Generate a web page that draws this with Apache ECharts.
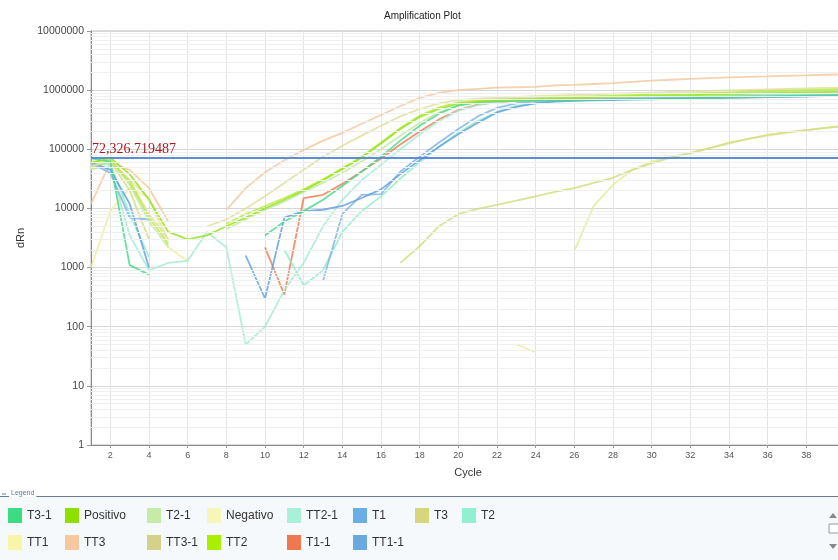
<!DOCTYPE html>
<html><head><meta charset="utf-8">
<script src="https://cdn.jsdelivr.net/npm/echarts@6/dist/echarts.min.js"></script>
<style>html,body{margin:0;padding:0;background:#fff}#c{width:838px;height:560px}</style>
</head><body><div id="c"></div>
<script>
// ---------- DATA ----------
const cycles = [1,2,3,4,5,6,7,8,9,10,11,12,13,14,15,16,17,18,19,20,21,22,23,24,25,26,27,28,29,30,31,32,33,34,35,36,37,38,39,40];
const xTickValues = [2,4,6,8,10,12,14,16,18,20,22,24,26,28,30,32,34,36,38,40];
const thresholdValue = 72326.719487;
const thresholdText = '72,326.719487';

const t3_1 = [70000,62000,1100,760,null,null,null,null,null,3500,6000,9000,14000,24000,42000,75000,140000,250000,400000,550000,620000,650000,660000,670000,675000,680000,690000,700000,705000,710000,720000,730000,740000,750000,760000,770000,780000,790000,800000,810000];
const positivo = [58000,72000,38000,14000,4000,3000,3500,5000,7000,10000,14000,20000,30000,46000,72000,125000,220000,350000,480000,590000,640000,670000,690000,700000,715000,730000,745000,760000,775000,790000,805000,820000,835000,850000,865000,880000,895000,910000,925000,940000];
const t2_1 = [52000,66000,25000,6000,2200,null,null,4500,6500,9500,13000,19000,27000,40000,62000,100000,170000,280000,420000,560000,640000,690000,720000,740000,760000,775000,790000,805000,820000,835000,850000,865000,880000,895000,910000,925000,940000,955000,970000,985000];
const negativo = [1000,9000,22000,15000,2200,1300,null,null,null,null,null,null,null,null,null,null,null,null,null,null,null,null,50,37,null,null,null,null,null,null,null,null,null,null,null,null,null,null,null,null];
const tt2_1 = [48000,50000,3500,900,1200,1300,4000,2200,50,100,420,1200,5000,14000,30000,55000,100000,180000,300000,450000,560000,630000,660000,680000,690000,700000,710000,720000,730000,740000,750000,760000,770000,780000,790000,800000,810000,820000,830000,840000];
const t1 = [60000,45000,12000,1000,null,null,null,null,1600,300,7000,9000,9500,11000,15000,21000,38000,65000,110000,180000,280000,420000,520000,600000,640000,660000,670000,680000,690000,700000,710000,720000,730000,740000,750000,760000,770000,780000,790000,800000];
const t3 = [50000,62000,20000,3000,null,null,null,null,null,null,null,null,null,null,null,null,1200,2300,5000,8000,9800,11500,13500,16000,19000,22000,27000,33000,45000,58000,72000,85000,105000,130000,150000,175000,195000,210000,230000,250000];
const t2 = [55000,58000,8000,1500,null,null,null,null,null,null,2000,500,900,4000,9000,16000,32000,60000,110000,190000,300000,430000,540000,610000,650000,670000,685000,700000,715000,730000,745000,760000,775000,790000,805000,820000,835000,850000,865000,880000];
const tt1 = [45000,60000,30000,15000,2900,null,null,null,null,null,null,null,null,null,null,null,null,null,null,null,null,null,null,null,null,1900,11000,25000,45000,62000,75000,88000,105000,125000,150000,170000,190000,210000,230000,245000];
const tt3 = [12000,60000,45000,22000,6000,null,null,9400,22000,41000,65000,97000,140000,190000,270000,380000,540000,740000,900000,1000000,1050000,1100000,1120000,1140000,1200000,1230000,1270000,1310000,1380000,1450000,1500000,1550000,1600000,1640000,1680000,1710000,1750000,1780000,1820000,1850000];
const tt3_1 = [50000,65000,30000,8000,3000,null,5000,6500,10000,16000,27000,45000,75000,115000,170000,250000,360000,480000,600000,680000,720000,750000,770000,790000,810000,830000,850000,870000,890000,910000,930000,950000,970000,990000,1010000,1030000,1050000,1070000,1090000,1100000];
const tt2 = [62000,66000,28000,7000,2500,null,null,5500,8000,11000,15000,21000,31000,48000,75000,130000,230000,370000,510000,620000,670000,700000,715000,725000,740000,760000,780000,800000,820000,840000,860000,880000,900000,920000,940000,960000,980000,1000000,1020000,1040000];
const t1_1 = [null,null,null,null,null,null,null,null,null,2200,350,15000,17000,26000,42000,70000,120000,200000,320000,460000,570000,630000,660000,680000,690000,700000,710000,720000,730000,740000,750000,760000,770000,780000,790000,800000,810000,820000,830000,840000];
const tt1_1 = [58000,40000,7000,6500,null,null,null,null,null,null,null,null,600,8000,17000,17500,42000,75000,130000,220000,360000,500000,600000,650000,670000,685000,700000,710000,720000,730000,740000,750000,760000,770000,780000,790000,800000,810000,820000,830000];

// ---------- STYLE ----------
const seriesDefs = [
  ['Negativo', negativo, '#eeee9c'],
  ['T1-1', t1_1, '#f07a52'],
  ['TT3', tt3, '#f3c89e'],
  ['TT1', tt1, '#e2ec92'],
  ['T3', t3, '#d2dc7c'],
  ['TT2-1', tt2_1, '#a2ecd4'],
  ['T2', t2, '#8ceecb'],
  ['TT1-1', tt1_1, '#7fb2e4'],
  ['T1', t1, '#5f9fe0'],
  ['T2-1', t2_1, '#c2e6a2'],
  ['TT3-1', tt3_1, '#dede9a'],
  ['TT2', tt2, '#b4ec3a'],
  ['T3-1', t3_1, '#46d98a'],
  ['Positivo', positivo, '#94e21e']
];
const legendColors = {'T3-1':'#3ddc84','Positivo':'#8ee000','T2-1':'#c8eaa8','Negativo':'#f6f6b8','TT2-1':'#a8f0d8','T1':'#6aaee8','T3':'#d6d67c','T2':'#90f0d0','TT1':'#f6f6a6','TT3':'#f5c8a0','TT3-1':'#d2d28a','TT2':'#a8f000','T1-1':'#f07850','TT1-1':'#6aa8e0'};
const legendCols = [
  [8, ['T3-1','TT1']], [65, ['Positivo','TT3']], [147, ['T2-1','TT3-1']], [207, ['Negativo','TT2']],
  [287, ['TT2-1','T1-1']], [353, ['T1','TT1-1']], [415, ['T3']], [462, ['T2']]
];

const series = seriesDefs.map(([name, arr, col]) => ({
  name, type: 'line', data: cycles.map((c, i) => [c, arr[i] == null ? '-' : arr[i]]),
  showSymbol: false, symbol: 'none', silent: true, z: 3,
  color: legendColors[name],
  itemStyle: {color: legendColors[name]},
  lineStyle: {color: col, width: 1.8, opacity: 0.82}
}));

const minorLines = [];
for (let k = 0; k < 7; k++) for (let m = 2; m <= 9; m++) minorLines.push({yAxis: m * Math.pow(10, k)});
series.unshift({
  name: '_grid', type: 'line', data: [], silent: true, z: 1,
  markLine: {silent: true, symbol: ['none','none'], animation: false, label: {show: false},
    lineStyle: {color: '#efefef', width: 1, type: 'solid'}, data: minorLines}
});
series.push({
  name: '_thr', type: 'line', data: [], silent: true, z: 6,
  markLine: {silent: true, symbol: ['none','none'], animation: false,
    lineStyle: {color: '#5b8ed6', width: 2.2, type: 'solid'},
    label: {show: true, position: 'insideStartTop', formatter: thresholdText, distance: [1, 1],
      color: '#b0161c', fontSize: 14, fontFamily: 'Liberation Serif, Times New Roman, serif'},
    data: [{yAxis: thresholdValue}]}
});

const legends = legendCols.map(([x, names]) => ({
  orient: 'vertical', left: x, top: 508, padding: 0, itemGap: 12, itemWidth: 14, itemHeight: 15,
  icon: 'rect', selectedMode: false, data: names,
  textStyle: {fontSize: 12, color: '#333', fontFamily: 'Arial, Liberation Sans, sans-serif'}
}));

const chart = echarts.init(document.getElementById('c'), null, {renderer: 'canvas'});
chart.setOption({
  animation: false,
  backgroundColor: '#ffffff',
  textStyle: {fontFamily: 'Arial, Liberation Sans, sans-serif'},
  title: {text: 'Amplification Plot', left: 384, top: 11, padding: 0,
    textStyle: {fontSize: 10, fontWeight: 'normal', color: '#222'}},
  legend: legends,
  grid: {left: 91, right: -7, top: 31, bottom: 115, show: true, borderColor: '#b8b8b8', borderWidth: 1, outerBoundsMode: 'none'},
  xAxis: {type: 'value', min: 1, max: 40, name: 'Cycle', nameLocation: 'middle', nameGap: 22,
    nameTextStyle: {fontSize: 11, color: '#333'},
    axisLine: {lineStyle: {color: '#8a8a8a'}},
    axisTick: {show: true, customValues: xTickValues, length: 3, lineStyle: {color: '#999'}},
    axisLabel: {customValues: xTickValues, fontSize: 9, color: '#555', margin: 6},
    splitLine: {show: true, lineStyle: {color: '#e4e4e4'}}},
  yAxis: {type: 'log', logBase: 10, min: 1, max: 10000000, name: 'dRn', nameLocation: 'middle', nameRotate: 90, nameGap: 62,
    nameTextStyle: {fontSize: 11, color: '#333'},
    axisLine: {show: true, lineStyle: {color: '#8a8a8a'}},
    axisTick: {show: true, length: 4, lineStyle: {color: '#999'}},
    axisLabel: {fontSize: 10.5, color: '#444', margin: 7, formatter: v => String(Math.round(v))},
    splitLine: {show: true, lineStyle: {color: '#d6d6d6'}}},
  series,
  graphic: [
    {type: 'rect', shape: {x: 0, y: 497, width: 838, height: 63}, style: {fill: '#f6f9fc'}, z: -1, silent: true},
    {type: 'line', shape: {x1: 0, y1: 496.5, x2: 838, y2: 496.5}, style: {stroke: '#6b7a8c', lineWidth: 1.2}, silent: true},
    {type: 'text', left: 9, top: 490, style: {text: 'Legend', fontSize: 7, fill: '#5a7ab0', backgroundColor: '#fff', padding: [0, 2]}, silent: true},
    {type: 'line', shape: {x1: 2, y1: 494, x2: 6, y2: 494}, style: {stroke: '#5a7ab0', lineWidth: 1}, silent: true},
    {type: 'polygon', shape: {points: [[829, 518], [833, 513], [837, 518]]}, style: {fill: '#888'}, silent: true},
    {type: 'rect', shape: {x: 829, y: 524, width: 10, height: 9}, style: {fill: '#fff', stroke: '#999'}, silent: true},
    {type: 'polygon', shape: {points: [[829, 544], [833, 549], [837, 544]]}, style: {fill: '#888'}, silent: true}
  ]
});
</script></body></html>
